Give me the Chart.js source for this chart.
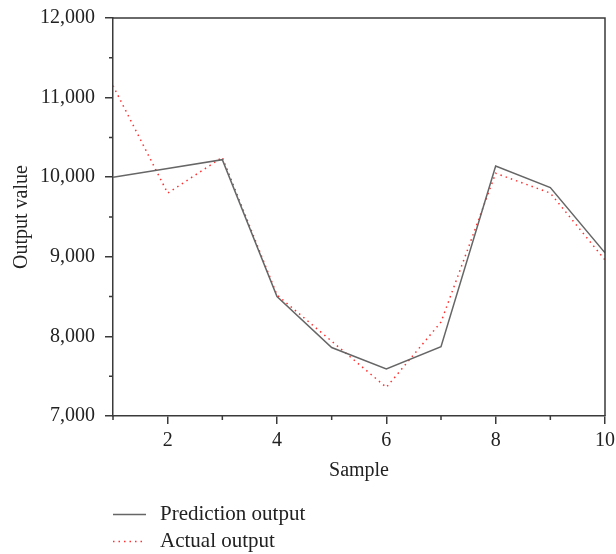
<!DOCTYPE html>
<html>
<head>
<meta charset="utf-8">
<script src="https://cdn.jsdelivr.net/npm/chart.js@4"></script>
<style>
  html, body { margin: 0; padding: 0; background: #fff; }
  #wrap { width: 616px; height: 554px; }
</style>
</head>
<body>
<div id="wrap"><canvas id="outputChart" width="616" height="554"></canvas></div>
<script>
// samples 1..10
const samples = [1, 2, 3, 4, 5, 6, 7, 8, 9, 10];
const predictionOutput = [10000, 10110, 10220, 8500, 7860, 7590, 7870, 10140, 9870, 9050];
const actualOutput = [11150, 9800, 10250, 8520, 7940, 7360, 8180, 10050, 9800, 8960];
const yTicks = [7000, 8000, 9000, 10000, 11000, 12000];
const yMinorTicks = [7500, 8500, 9500, 10500, 11500];
const xTicks = [2, 4, 6, 8, 10];

const font = { family: 'Liberation Serif', size: 20 };
const axisColor = '#3a3a3a';
const textColor = '#222';

// top/right frame, short minor ticks, legend under the chart
const framePlugin = {
    id: 'frame',
    afterDraw(chart) {
        const ctx = chart.ctx;
        const a = chart.chartArea;
        const xs = chart.scales.x, ys = chart.scales.y;
        ctx.save();
        ctx.strokeStyle = axisColor;
        ctx.lineWidth = 1.5;
        ctx.beginPath();
        ctx.moveTo(a.left, a.top);
        ctx.lineTo(a.right, a.top);
        ctx.lineTo(a.right, a.bottom);
        // minor ticks
        samples.filter(v => !xTicks.includes(v)).forEach(v => {
            const px = xs.getPixelForValue(v);
            ctx.moveTo(px, a.bottom);
            ctx.lineTo(px, a.bottom + 4);
        });
        yMinorTicks.forEach(v => {
            const py = ys.getPixelForValue(v);
            ctx.moveTo(a.left, py);
            ctx.lineTo(a.left - 4, py);
        });
        ctx.stroke();

        // legend
        ctx.font = '21px "Liberation Serif"';
        ctx.fillStyle = textColor;
        ctx.textBaseline = 'middle';
        chart.data.datasets.forEach((ds, i) => {
            const y = 514.5 + i * 27;
            ctx.strokeStyle = ds.borderColor;
            ctx.lineWidth = ds.borderWidth;
            ctx.setLineDash(ds.borderDash || []);
            ctx.beginPath();
            ctx.moveTo(113, y);
            ctx.lineTo(146, y);
            ctx.stroke();
            ctx.setLineDash([]);
            ctx.fillText(ds.label, 160, y);
        });
        ctx.restore();
    }
};

new Chart(document.getElementById('outputChart'), {
    type: 'line',
    data: {
        labels: samples,
        datasets: [{
            label: 'Prediction output',
            data: samples.map((x, i) => ({ x: x, y: predictionOutput[i] })),
            borderColor: '#666666',
            borderWidth: 1.5,
            pointRadius: 0,
            tension: 0
        }, {
            label: 'Actual output',
            data: samples.map((x, i) => ({ x: x, y: actualOutput[i] })),
            borderColor: '#ff3030',
            borderWidth: 1.5,
            borderDash: [1.5, 4],
            pointRadius: 0,
            tension: 0
        }]
    },
    options: {
        responsive: false,
        animation: false,
        layout: { padding: { left: 0, right: 0, top: 0, bottom: 71 } },
        plugins: { legend: { display: false }, tooltip: { enabled: false } },
        scales: {
            x: {
                type: 'linear',
                min: 1,
                max: 10,
                afterBuildTicks: axis => {
                    axis.ticks = xTicks.map(v => ({ value: v }));
                },
                afterFit: axis => {
                    axis.paddingLeft = 0;
                    axis.paddingRight = 11;
                },
                ticks: {
                    font: font,
                    color: textColor,
                    maxRotation: 0,
                    padding: 5
                },
                grid: { drawOnChartArea: false, tickLength: 8, color: axisColor, lineWidth: 1.5 },
                border: { color: axisColor, width: 1.5 },
                title: { display: true, text: 'Sample', font: font, color: textColor, padding: { top: 1, bottom: 0 } }
            },
            y: {
                min: 7000,
                max: 12000,
                afterBuildTicks: axis => {
                    axis.ticks = yTicks.map(v => ({ value: v }));
                },
                afterFit: axis => {
                    axis.width = 113;
                    axis.paddingTop = 18;
                },
                ticks: {
                    font: font,
                    color: textColor,
                    padding: 10,
                    callback: v => v.toLocaleString('en-US')
                },
                grid: { drawOnChartArea: false, tickLength: 8, color: axisColor, lineWidth: 1.5 },
                border: { color: axisColor, width: 1.5 },
                title: { display: true, text: 'Output value', font: font, color: textColor, padding: { top: 10, bottom: 0 } }
            }
        }
    },
    plugins: [framePlugin]
});
</script>
</body>
</html>
